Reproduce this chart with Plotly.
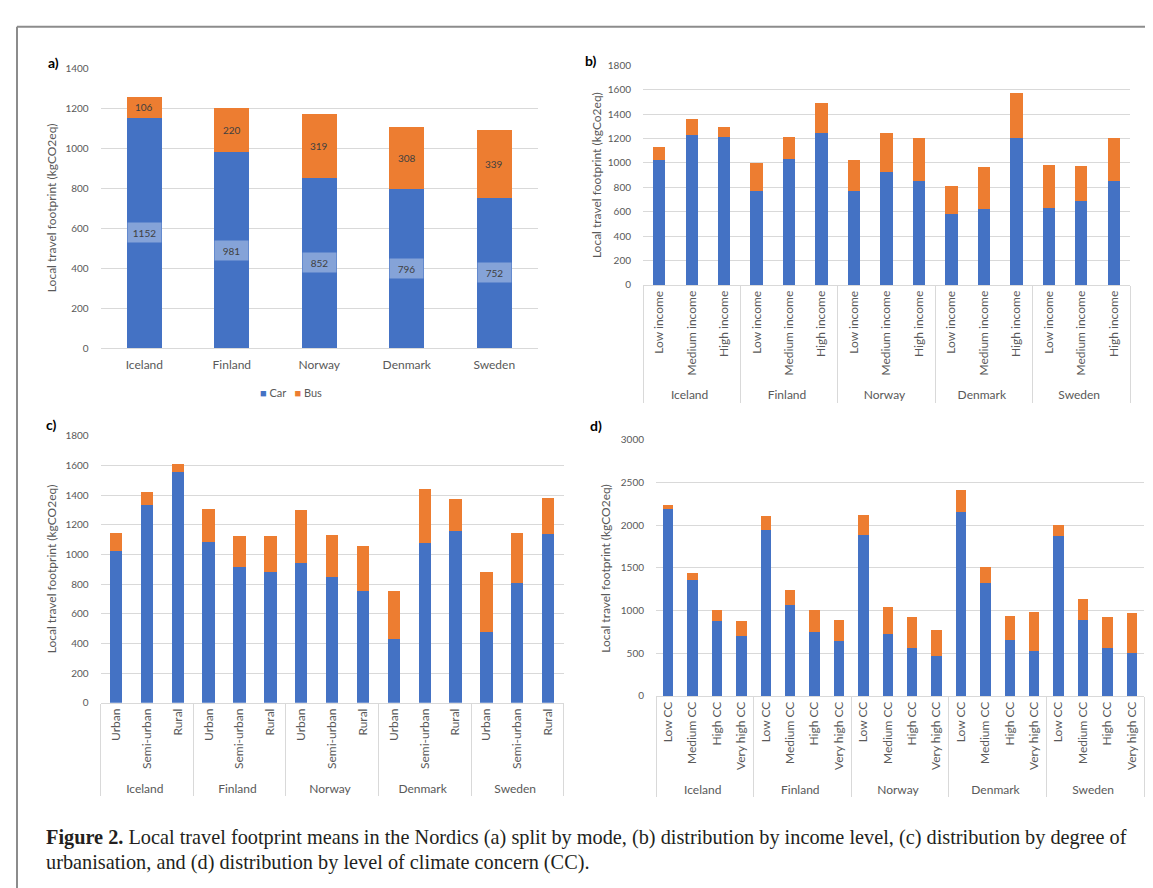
import plotly.graph_objects as go

W, H = 1153, 888

countries = ["Iceland", "Finland", "Norway", "Denmark", "Sweden"]

# Panel a: split by mode
a_car = [1152, 981, 852, 796, 752]
a_bus = [106, 220, 319, 308, 339]

# Panel b: income level
income_levels = ["Low income", "Medium income", "High income"]
b_car = [1021, 1225, 1212, 768, 1029, 1249, 768, 927, 849, 578, 623, 1206, 631, 685, 849]
b_bus = [110, 134, 86, 229, 185, 239, 253, 317, 357, 236, 344, 366, 355, 288, 352]

# Panel c: urbanisation
urban_levels = ["Urban", "Semi-urban", "Rural"]
c_car = [1025, 1331, 1556, 1083, 912, 883, 941, 850, 755, 430, 1074, 1160, 480, 810, 1140]
c_bus = [120, 90, 54, 221, 211, 240, 356, 279, 305, 325, 365, 213, 399, 335, 239]

# Panel d: climate concern
cc_levels = ["Low CC", "Medium CC", "High CC", "Very high CC"]
d_car = [2192, 1361, 877, 700, 1946, 1069, 746, 638, 1881, 723, 558, 465,
         2154, 1327, 654, 527, 1869, 888, 565, 500]
d_bus = [43, 77, 123, 177, 162, 166, 262, 250, 234, 323, 369, 312,
         257, 177, 281, 458, 131, 243, 354, 465]

modes = ["Car", "Bus"]

BLUE = "#4472C4"
ORANGE = "#ED7D31"
GRID = "#D9D9D9"
TXT = "#595959"
FONT = "Lato"


def xdom(l, r):
    return [l / W, r / W]


def ydom(t, b):
    return [1 - b / H, 1 - t / H]


def multicat(levels):
    outer = [c for c in countries for _ in levels]
    inner = [lv for _ in countries for lv in levels]
    return [outer, inner]


fig = go.Figure()

# Panel a
fig.add_trace(go.Bar(x=countries, y=a_car, name=modes[0], marker_color=BLUE, width=0.4,
                     marker_line_width=0, xaxis="x", yaxis="y"))
fig.add_trace(go.Bar(x=countries, y=a_bus, name=modes[1], marker_color=ORANGE, width=0.4,
                     marker_line_width=0, xaxis="x", yaxis="y"))

panels = [
    (income_levels, b_car, b_bus, "2", 0.38),
    (urban_levels, c_car, c_bus, "3", 0.40),
    (cc_levels, d_car, d_bus, "4", 0.43),
]
for levels, car, bus, ax, w in panels:
    xx = multicat(levels)
    fig.add_trace(go.Bar(x=xx, y=car, name=modes[0], marker_color=BLUE, width=w, marker_line_width=0,
                         xaxis="x" + ax, yaxis="y" + ax))
    fig.add_trace(go.Bar(x=xx, y=bus, name=modes[1], marker_color=ORANGE, width=w, marker_line_width=0,
                         xaxis="x" + ax, yaxis="y" + ax))

yax_common = dict(gridcolor=GRID, gridwidth=1, showline=False, zeroline=False,
                  tickfont=dict(size=10, color=TXT, family=FONT), ticklabelstandoff=11,
                  ticks="", fixedrange=True)
mc_common = dict(type="multicategory", showdividers=True, dividercolor=GRID, dividerwidth=1,
                 tickangle=-90, showline=True, linecolor=GRID, linewidth=1,
                 tickfont=dict(size=12, color=TXT, family=FONT), ticks="", showgrid=False)

fig.update_layout(
    width=W, height=H, autosize=False,
    margin=dict(l=0, r=0, t=0, b=0),
    paper_bgcolor="white", plot_bgcolor="white",
    barmode="stack",
    font=dict(family=FONT, color=TXT),
    showlegend=False,
    xaxis=dict(domain=xdom(92.6, 530), anchor="y", showline=True, linecolor=GRID,
               tickfont=dict(size=12, color=TXT, family=FONT), ticks="", ticklabelstandoff=6),
    yaxis=dict(domain=ydom(54, 338), anchor="x", range=[0, 1400], dtick=200, **yax_common),
    xaxis2=dict(domain=xdom(635, 1122), anchor="y2", **mc_common),
    yaxis2=dict(domain=ydom(51, 274), anchor="x2", range=[0, 1800], dtick=200, **yax_common),
    xaxis3=dict(domain=xdom(92.6, 555.6), anchor="y3", **mc_common),
    yaxis3=dict(domain=ydom(427, 698), anchor="x3", range=[0, 1800], dtick=200, **yax_common),
    xaxis4=dict(domain=xdom(648, 1136), anchor="y4", **mc_common),
    yaxis4=dict(domain=ydom(431, 691), anchor="x4", range=[0, 3000], dtick=500, **yax_common),
)

ann = []
# y-axis titles
for xpx, (t, b), txt in [(43, (54, 338), "Local travel footprint (kgCO2eq)"),
                         (588, (51, 274), "Local travel footprint (kgCo2eq)"),
                         (43, (427, 698), "Local travel footprint (kgCO2eq)"),
                         (598, (431, 691), "Local travel footprint (kgCO2eq)")]:
    ann.append(dict(xref="paper", yref="paper", x=xpx / W, y=1 - (t + b) / 2 / H,
                    text=txt, textangle=-90, showarrow=False, xanchor="center", yanchor="middle",
                    font=dict(size=12, color=TXT, family=FONT)))
# panel letters
for xpx, ypx, txt in [(45, 48, "a)"), (583, 46, "b)"), (43, 416, "c)"), (588, 417, "d)")]:
    ann.append(dict(xref="paper", yref="paper", x=xpx / W, y=1 - ypx / H, text="<b>" + txt + "</b>",
                    showarrow=False, xanchor="center", yanchor="middle",
                    font=dict(size=14, color="black", family=FONT)))
# data labels panel a
for c, car, bus in zip(countries, a_car, a_bus):
    ann.append(dict(xref="x", yref="y", x=c, y=car / 2, text=str(car), showarrow=False,
                    bgcolor="rgba(255,255,255,0.35)", width=31, height=17,
                    font=dict(size=10, color="#404040", family=FONT)))
    ann.append(dict(xref="x", yref="y", x=c, y=car + bus / 2, text=str(bus), showarrow=False,
                    font=dict(size=10, color="#404040", family=FONT)))
# legend of panel a (compact, Excel-like)
legend_txt = ("<span style='color:%s'>■</span> %s   <span style='color:%s'>■</span> %s"
              % (BLUE, modes[0], ORANGE, modes[1]))
ann.append(dict(xref="paper", yref="paper", x=283 / W, y=1 - 383 / H, xanchor="center",
                yanchor="middle", showarrow=False, text=legend_txt,
                font=dict(size=11, color=TXT, family=FONT)))
# caption
CAP = "Liberation Serif"
ann.append(dict(xref="paper", yref="paper", x=36 / W, y=1 - 835 / H, xanchor="left", yanchor="middle",
                showarrow=False, align="left",
                text="<b>Figure 2.</b> Local travel footprint means in the Nordics (a) split by mode, "
                     "(b) distribution by income level, (c) distribution by degree of",
                font=dict(size=20.3, color="#231F20", family=CAP)))
ann.append(dict(xref="paper", yref="paper", x=36 / W, y=1 - 860 / H, xanchor="left", yanchor="middle",
                showarrow=False, align="left",
                text="urbanisation, and (d) distribution by level of climate concern (CC).",
                font=dict(size=20.3, color="#231F20", family=CAP)))
fig.update_layout(annotations=ann)

# outer frame
fig.update_layout(shapes=[
    dict(type="line", xref="paper", yref="paper", x0=9 / W, x1=9 / W, y0=0, y1=1 - 12 / H,
         line=dict(color="#8C8C8C", width=2)),
    dict(type="line", xref="paper", yref="paper", x0=9 / W, x1=1, y0=1 - 12 / H, y1=1 - 12 / H,
         line=dict(color="#8C8C8C", width=2)),
])

fig.write_html("out.html")
